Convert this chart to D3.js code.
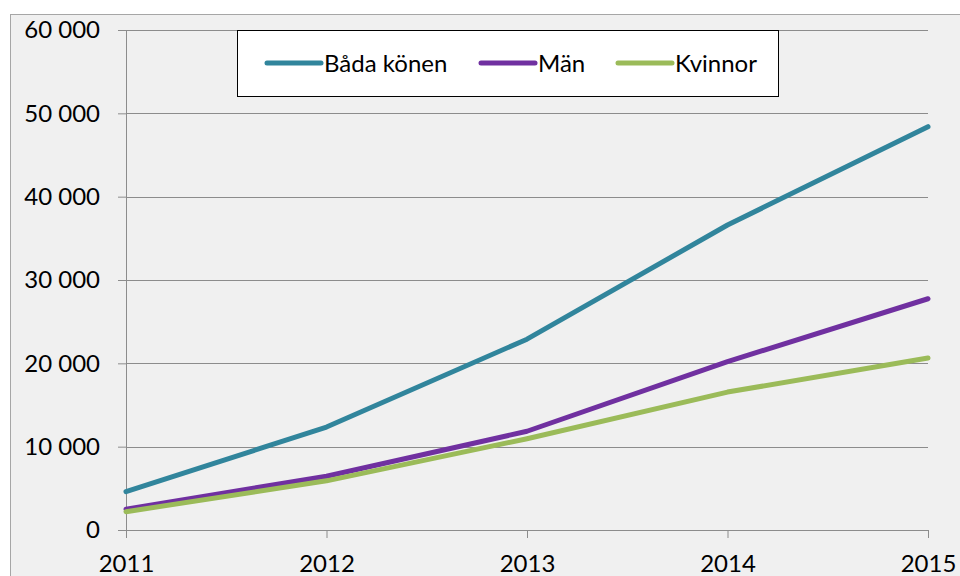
<!DOCTYPE html>
<html>
<head>
<meta charset="utf-8">
<script src="https://cdn.jsdelivr.net/npm/d3@7"></script>
<style>
  body { margin: 0; background: #fff; }
  text { font-family: Lato, "Open Sans", sans-serif; fill: #000; }
</style>
</head>
<body>
<div id="chart"></div>
<script>
var years = [2011, 2012, 2013, 2014, 2015];
var yTicks = [0, 10000, 20000, 30000, 40000, 50000, 60000];
var seriesNames = ["Båda könen", "Män", "Kvinnor"];
var bada = [4600, 12350, 22900, 36600, 48400];
var man = [2500, 6450, 11850, 20200, 27750];
var kvinnor = [2200, 5900, 10950, 16550, 20650];
var colors = ["#31859c", "#7030a0", "#9bbb59"];

var W = 960, H = 576,
    margin = {top: 30, right: 32, bottom: 46, left: 126};
var width = 928 - margin.left, height = 530 - margin.top;

var svg = d3.select('#chart').append('svg')
  .attr('width', W).attr('height', H);

// chart frame
svg.append('rect')
  .attr('x', 10.5).attr('y', 14.5)
  .attr('width', W).attr('height', H)
  .attr('fill', '#f0f0f0')
  .attr('stroke', '#a6a6a6');

var g = svg.append('g').attr('transform', 'translate(' + margin.left + ',' + margin.top + ')');

var x = d3.scalePoint().domain(years).range([0, width]);
var y = d3.scaleLinear().domain([0, 60000]).range([height, 0]);

var fmt = function(d) { return d3.format(',')(d).replace(/,/g, ' '); };

// gridlines
g.append('g').selectAll('line')
  .data(yTicks.filter(function(d) { return d > 0; }))
  .enter().append('line')
    .attr('x1', 0).attr('x2', width)
    .attr('y1', function(d) { return Math.round(y(d)) + 0.5; })
    .attr('y2', function(d) { return Math.round(y(d)) + 0.5; })
    .attr('stroke', '#8c8c8c').attr('stroke-width', 1);

// y axis
var ya = g.append('g')
  .call(d3.axisLeft(y).tickValues(yTicks).tickSize(8).tickPadding(18).tickFormat(fmt));
ya.select('.domain').attr('stroke', '#8c8c8c');
ya.selectAll('.tick line').attr('stroke', '#8c8c8c');
ya.selectAll('text').attr('font-size', 24).attr('font-family', 'Lato, sans-serif');

// x axis
var xa = g.append('g')
  .attr('transform', 'translate(0,' + height + ')')
  .call(d3.axisBottom(x).tickSize(8).tickSizeOuter(0).tickPadding(17));
xa.select('.domain').attr('stroke', '#8c8c8c');
xa.selectAll('.tick line').attr('stroke', '#8c8c8c');
xa.selectAll('text').attr('font-size', 24).attr('font-family', 'Lato, sans-serif');

// lines
var line = d3.line()
  .x(function(d, i) { return x(years[i]); })
  .y(function(d) { return y(d); });

[bada, man, kvinnor].forEach(function(s, i) {
  g.append('path')
    .datum(s)
    .attr('d', line)
    .attr('fill', 'none')
    .attr('stroke', colors[i])
    .attr('stroke-width', 5)
    .attr('stroke-linecap', 'round')
    .attr('stroke-linejoin', 'round');
});

// legend
var lg = svg.append('g');
lg.append('rect')
  .attr('x', 237.5).attr('y', 30.5).attr('width', 541).attr('height', 66)
  .attr('fill', '#fff').attr('stroke', '#000').attr('stroke-width', 1);

var legX = [267, 481, 618];
seriesNames.forEach(function(n, i) {
  lg.append('line')
    .attr('x1', legX[i]).attr('x2', legX[i] + 54)
    .attr('y1', 63).attr('y2', 63)
    .attr('stroke', colors[i]).attr('stroke-width', 5)
    .attr('stroke-linecap', 'round');
  lg.append('text')
    .attr('x', legX[i] + 57).attr('y', 63)
    .attr('dy', '0.36em')
    .attr('font-size', 24)
    .text(n);
});
</script>
</body>
</html>
